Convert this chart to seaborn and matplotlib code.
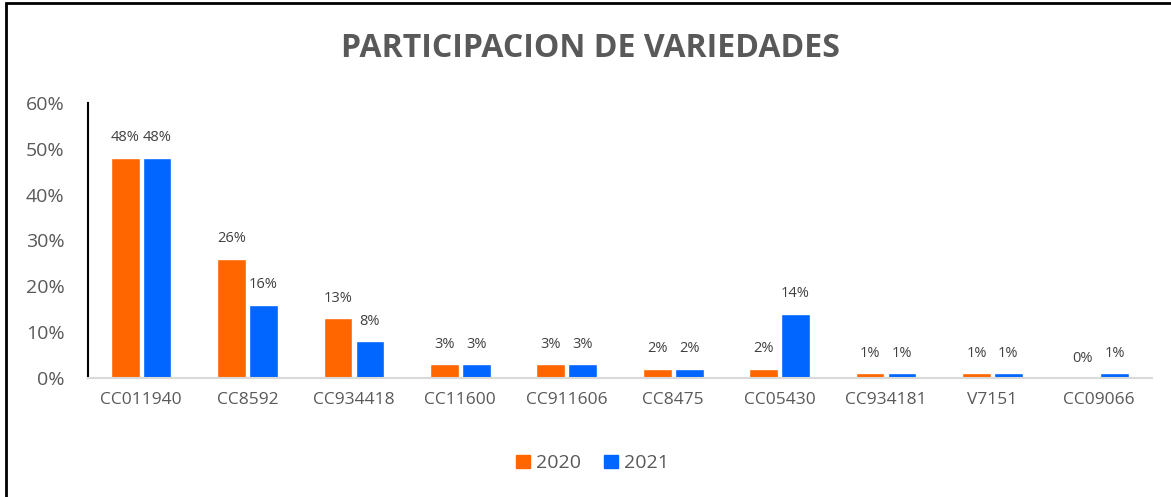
import matplotlib
matplotlib.use("Agg")
import matplotlib.pyplot as plt
from matplotlib.patches import Rectangle
import seaborn as sns
import pandas as pd

varieties = ["CC011940", "CC8592", "CC934418", "CC11600", "CC911606",
             "CC8475", "CC05430", "CC934181", "V7151", "CC09066"]
share_2020 = [0.48, 0.26, 0.13, 0.03, 0.03, 0.02, 0.02, 0.01, 0.01, 0.00]
share_2021 = [0.48, 0.16, 0.08, 0.03, 0.03, 0.02, 0.14, 0.01, 0.01, 0.01]
years = ["2020", "2021"]
colors = ["#FF6600", "#0066FF"]

df = pd.DataFrame({
    "variedad": varieties * 2,
    "year": [years[0]] * len(varieties) + [years[1]] * len(varieties),
    "share": share_2020 + share_2021,
})

sns.set_style("white")
plt.rcParams["font.family"] = ["Open Sans", "DejaVu Sans"]
text_gray = "#595959"

fig = plt.figure(figsize=(11.71, 4.97), dpi=100)
ax = fig.add_axes([0.0751, 0.2394, 0.9087, 0.5534])

sns.barplot(data=df, x="variedad", y="share", hue="year", palette=colors,
            width=0.6, gap=0.1, saturation=1, ax=ax, legend=False)

for cont in ax.containers:
    ax.bar_label(cont, labels=[f"{v:.0%}" for v in cont.datavalues],
                 padding=9, fontsize=10.5, color="#404040")

ax.set_ylim(0, 0.6)
ax.set_xlim(-0.5, len(varieties) - 0.5)
ax.set_yticks([0, 0.1, 0.2, 0.3, 0.4, 0.5, 0.6])
ax.set_yticklabels([f"{int(t * 100)}%" for t in ax.get_yticks()])
ax.tick_params(axis="both", colors=text_gray, length=0)
ax.tick_params(axis="y", pad=17, labelsize=14)
ax.tick_params(axis="x", pad=10, labelsize=12.5)
ax.set_xlabel("")
ax.set_ylabel("")

for side in ["top", "right"]:
    ax.spines[side].set_visible(False)
ax.spines["left"].set_color("black")
ax.spines["left"].set_linewidth(1.5)
ax.spines["bottom"].set_color("#D9D9D9")
ax.spines["bottom"].set_linewidth(1.5)

fig.text(0.504, 0.903, "PARTICIPACION DE VARIEDADES", ha="center", va="center",
         fontsize=23, fontweight="bold", color=text_gray)

handles = [Rectangle((0, 0), 1, 1, color=c) for c in colors]
fig.legend(handles, years, loc="center", bbox_to_anchor=(0.506, 0.068), ncol=2,
           frameon=False, fontsize=14, handlelength=0.7, handleheight=0.7,
           columnspacing=1.2, handletextpad=0.3, labelcolor=text_gray)

# outer frame as in the source image
fig.add_artist(Rectangle((0.0055, -0.05), 1.1, 1.043, transform=fig.transFigure,
                         fill=False, edgecolor="black", linewidth=2))

fig.savefig("out.png", dpi=100)
